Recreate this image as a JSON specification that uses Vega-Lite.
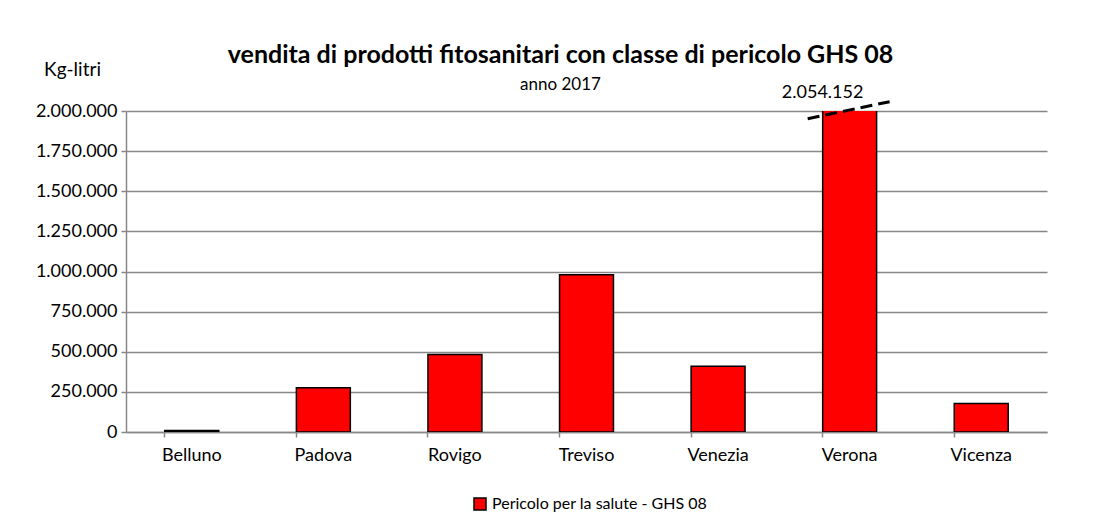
{
  "$schema": "https://vega.github.io/schema/vega-lite/v6.json",
  "width": 921,
  "height": 321,
  "autosize": {"type": "none"},
  "padding": {"left": 126, "top": 111, "right": 61, "bottom": 98},
  "background": "white",
  "config": {
    "font": "Lato",
    "locale": {"number": {"decimal": ",", "thousands": ".", "grouping": [3], "currency": ["€", ""]}},
    "view": {"stroke": null}
  },
  "title": {
    "text": "vendita di prodotti fitosanitari con classe di pericolo  GHS 08",
    "subtitle": "anno 2017",
    "anchor": "middle",
    "frame": "group",
    "dx": -26,
    "dy": 33,
    "offset": 0,
    "font": "Lato",
    "fontSize": 25,
    "fontWeight": "bold",
    "color": "#000000",
    "subtitleFont": "Lato",
    "subtitleFontSize": 17,
    "subtitleColor": "#000000",
    "subtitlePadding": 9
  },
  "datasets": {
    "vendite": [
      {"provincia": "Belluno", "valore": 10000, "serie": "Pericolo per la salute - GHS 08"},
      {"provincia": "Padova", "valore": 276000, "serie": "Pericolo per la salute - GHS 08"},
      {"provincia": "Rovigo", "valore": 483000, "serie": "Pericolo per la salute - GHS 08"},
      {"provincia": "Treviso", "valore": 979000, "serie": "Pericolo per la salute - GHS 08"},
      {"provincia": "Venezia", "valore": 409000, "serie": "Pericolo per la salute - GHS 08"},
      {"provincia": "Verona", "valore": 2054152, "serie": "Pericolo per la salute - GHS 08"},
      {"provincia": "Vicenza", "valore": 177000, "serie": "Pericolo per la salute - GHS 08"}
    ],
    "interruzione": [
      {"provincia": "Verona", "y1": 1952000, "y2": 2058000}
    ],
    "etichetta": [
      {"provincia": "Verona", "valore": 2054152}
    ]
  },
  "layer": [
    {
      "data": {"name": "vendite"},
      "mark": {"type": "bar", "stroke": "#000000", "strokeWidth": 1.5, "clip": true},
      "encoding": {
        "x": {
          "field": "provincia",
          "type": "nominal",
          "sort": null,
          "scale": {"paddingInner": 0.59, "paddingOuter": 0.295},
          "axis": {
            "title": null,
            "labelAngle": 0,
            "labelFont": "Lato",
            "labelFontSize": 18,
            "labelColor": "#000000",
            "labelPadding": 9,
            "domainColor": "#888888",
            "domainWidth": 1.5,
            "tickColor": "#888888",
            "tickWidth": 1.5,
            "tickSize": 5,
            "bandPosition": 0,
            "grid": false
          }
        },
        "y": {
          "field": "valore",
          "type": "quantitative",
          "scale": {"domain": [0, 2000000], "nice": false},
          "axis": {
            "title": "Kg-litri",
            "titleAngle": 0,
            "titleFont": "Lato",
            "titleFontSize": 19,
            "titleFontWeight": "normal",
            "titleColor": "#000000",
            "titleAlign": "center",
            "titleBaseline": "alphabetic",
            "titleX": -54,
            "titleY": -36,
            "values": [0, 250000, 500000, 750000, 1000000, 1250000, 1500000, 1750000, 2000000],
            "format": ",d",
            "labelFont": "Lato",
            "labelFontSize": 18,
            "labelColor": "#000000",
            "labelPadding": 4,
            "domainColor": "#888888",
            "domainWidth": 1.5,
            "tickColor": "#888888",
            "tickWidth": 1.5,
            "tickSize": 5,
            "gridColor": "#888888",
            "gridWidth": 1.5
          }
        },
        "color": {
          "field": "serie",
          "type": "nominal",
          "scale": {"range": ["#ff0000"]},
          "legend": {
            "title": null,
            "orient": "none",
            "legendX": 346,
            "legendY": 385,
            "symbolType": "square",
            "symbolSize": 144,
            "symbolStrokeColor": "#000000",
            "symbolStrokeWidth": 1.5,
            "symbolOpacity": 1,
            "labelFont": "Lato",
            "labelFontSize": 16,
            "labelColor": "#000000",
            "labelOffset": 4,
            "labelLimit": 400,
            "padding": 0
          }
        }
      }
    },
    {
      "data": {"name": "interruzione"},
      "mark": {"type": "rule", "color": "#000000", "strokeWidth": 3, "strokeDash": [12, 6], "xOffset": -15, "x2Offset": 13, "clip": false},
      "encoding": {
        "x": {"field": "provincia", "type": "nominal", "bandPosition": 0},
        "x2": {"field": "provincia", "bandPosition": 1},
        "y": {"field": "y1", "type": "quantitative"},
        "y2": {"field": "y2"}
      }
    },
    {
      "data": {"name": "etichetta"},
      "mark": {"type": "text", "font": "Lato", "fontSize": 18, "color": "#000000", "baseline": "alphabetic", "dx": -27, "dy": -4, "clip": false},
      "encoding": {
        "x": {"field": "provincia", "type": "nominal"},
        "y": {"field": "valore", "type": "quantitative"},
        "text": {"field": "valore", "type": "quantitative", "format": ",d"}
      }
    }
  ]
}
